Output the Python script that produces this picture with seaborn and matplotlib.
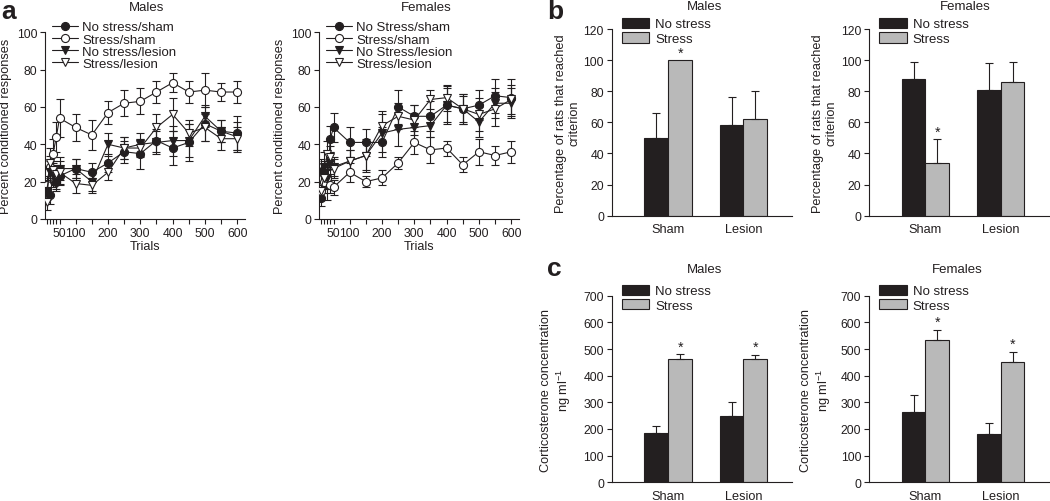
import matplotlib
matplotlib.use('Agg')
import pandas as pd
import matplotlib.pyplot as plt
import seaborn as sns

# Dados - painel a (percentagem de respostas condicionadas)
trials = [10, 20, 30, 40, 50, 100, 150, 200, 250, 300, 350, 400, 450, 500, 550, 600]

males_ns_sham = [16, 13, 25, 20, 23, 27, 25, 30, 36, 35, 42, 38, 41, 51, 47, 46]
males_ns_sham_err = [5, 5, 6, 4, 5, 5, 5, 5, 6, 8, 6, 9, 10, 9, 6, 9]
males_s_sham = [18, 28, 35, 44, 54, 49, 45, 57, 62, 63, 68, 73, 68, 69, 68, 68]
males_s_sham_err = [5, 6, 8, 8, 10, 7, 8, 6, 7, 7, 6, 5, 6, 9, 5, 6]
males_ns_lesion = [15, 25, 24, 20, 27, 27, 20, 40, 38, 40, 41, 42, 42, 55, 47, 44]
males_ns_lesion_err = [5, 6, 6, 5, 6, 5, 5, 6, 6, 6, 6, 8, 9, 6, 6, 8]
males_s_lesion = [9, 30, 26, 24, 25, 19, 18, 25, 38, 38, 49, 56, 46, 49, 43, 43]
males_s_lesion_err = [4, 8, 9, 5, 6, 5, 4, 4, 6, 5, 7, 9, 7, 7, 6, 6]

females_ns_sham = [11, 24, 18, 43, 49, 41, 41, 41, 60, 55, 55, 61, 59, 61, 66, 65]
females_ns_sham_err = [4, 7, 8, 7, 8, 8, 7, 8, 9, 6, 8, 10, 8, 8, 9, 10]
females_s_sham = [15, 20, 22, 18, 17, 25, 20, 22, 30, 41, 37, 38, 29, 36, 34, 36]
females_s_sham_err = [5, 6, 5, 4, 4, 5, 3, 4, 3, 6, 7, 4, 4, 7, 5, 6]
females_ns_lesion = [25, 28, 22, 30, 28, 31, 34, 46, 48, 49, 50, 61, 59, 52, 62, 62]
females_ns_lesion_err = [7, 8, 6, 6, 5, 6, 8, 10, 9, 8, 6, 9, 7, 8, 8, 8]
females_s_lesion = [15, 22, 35, 33, 27, 31, 34, 50, 55, 53, 64, 65, 59, 56, 59, 64]
females_s_lesion_err = [5, 6, 7, 6, 5, 6, 9, 8, 7, 8, 5, 7, 8, 9, 9, 8]

labels_males = ['No stress/sham', 'Stress/sham', 'No stress/lesion', 'Stress/lesion']
labels_females = ['No Stress/sham', 'Stress/sham', 'No Stress/lesion', 'Stress/lesion']

# Dados - paineis b e c
conditions = ['Sham', 'Lesion']
stress_levels = ['No stress', 'Stress']

crit_m_nostress = [50, 58]
crit_m_nostress_err = [16, 18]
crit_m_stress = [100, 62]
crit_m_stress_err = [0, 18]
crit_m_star = [True, False]

crit_f_nostress = [88, 81]
crit_f_nostress_err = [11, 17]
crit_f_stress = [34, 86]
crit_f_stress_err = [15, 13]
crit_f_star = [True, False]

cort_m_nostress = [185, 250]
cort_m_nostress_err = [27, 50]
cort_m_stress = [462, 462]
cort_m_stress_err = [19, 17]
cort_m_star = [True, True]

cort_f_nostress = [263, 182]
cort_f_nostress_err = [64, 41]
cort_f_stress = [535, 452]
cort_f_stress_err = [37, 37]
cort_f_star = [True, True]

INK = '#231f20'
bar_colors = {'No stress': INK, 'Stress': '#b9b9b9'}

sns.set_theme(style='ticks')
plt.rcParams['font.family'] = ['Liberation Sans', 'DejaVu Sans']
plt.rcParams['mathtext.default'] = 'regular'
plt.rcParams['text.color'] = INK
plt.rcParams['axes.labelcolor'] = INK
plt.rcParams['xtick.color'] = INK
plt.rcParams['ytick.color'] = INK
plt.rcParams['axes.edgecolor'] = INK

FS = 9.2
TS = 8.8
W, H = 1050, 502


def estilo_eixos(ax):
    sns.despine(ax=ax)
    for s in ax.spines.values():
        s.set_linewidth(0.8)
    ax.tick_params(direction='out', length=3.6, width=0.8, labelsize=TS, pad=2)


def painel_linhas(ax, series, erros, labels):
    estilos = [('o', INK), ('o', 'white'), ('v', INK), ('v', 'white')]
    for vals, err in zip(series, erros):
        ax.errorbar(trials, vals, yerr=err, fmt='none', ecolor=INK, elinewidth=0.8,
                    capsize=3, capthick=0.8, zorder=1)
    for vals, lab, (mk, face) in zip(series, labels, estilos):
        sns.lineplot(x=trials, y=vals, ax=ax, color=INK, marker=mk, markersize=5.8,
                     markerfacecolor=face, markeredgecolor=INK, markeredgewidth=0.8,
                     linewidth=0.8, label=lab, zorder=3)
    ax.set_xlim(5, 624)
    ax.set_ylim(0, 100)
    ticks = [10, 20, 30, 40, 50, 100, 150, 200, 250, 300, 350, 400, 450, 500, 550, 600]
    rotulos = [str(t) if t in (50, 100, 200, 300, 400, 500, 600) else '' for t in ticks]
    ax.set_xticks(ticks)
    ax.set_xticklabels(rotulos)
    ax.set_yticks([0, 20, 40, 60, 80, 100])
    ax.set_xlabel('Trials', fontsize=FS)
    ax.set_ylabel('Percent conditioned responses', fontsize=FS)
    ax.yaxis.set_label_coords(-0.165, 0.5)
    ax.xaxis.set_label_coords(0.5, -0.11)
    estilo_eixos(ax)
    ax.legend(loc='upper left', bbox_to_anchor=(0.035, 1.06), frameon=False, fontsize=FS + 0.3,
              handlelength=2.0, handletextpad=0.3, labelspacing=0.0, borderpad=0, borderaxespad=0)


def painel_barras(ax, nostress, stress, err_ns, err_s, stars, ylim, yticks, ylabel, lab_x):
    df = pd.DataFrame({
        'cond': conditions + conditions,
        'grupo': [stress_levels[0]] * 2 + [stress_levels[1]] * 2,
        'val': nostress + stress,
    })
    sns.barplot(data=df, x='cond', y='val', hue='grupo', order=conditions, hue_order=stress_levels,
                palette=bar_colors, width=0.63, gap=0, errorbar=None, saturation=1,
                edgecolor=INK, linewidth=0.8, ax=ax)
    for cont, err, flags in zip(ax.containers, [err_ns, err_s], [[False, False], stars]):
        for bar, e, st in zip(cont, err, flags):
            x = bar.get_x() + bar.get_width() / 2
            h = bar.get_height()
            if e > 0:
                ax.errorbar(x, h, yerr=[[0], [e]], fmt='none', ecolor=INK, elinewidth=0.8,
                            capsize=3, capthick=0.8, zorder=3)
            if st:
                ax.annotate('*', (x, h + e), xytext=(0, 0.5), textcoords='offset points',
                            ha='center', va='bottom', fontsize=FS + 1)
    ax.set_xlim(-0.75, 1.65)
    ax.set_ylim(*ylim)
    ax.set_yticks(yticks)
    ax.set_xlabel('')
    ax.set_ylabel(ylabel, fontsize=FS)
    ax.yaxis.set_label_coords(lab_x, 0.5)
    estilo_eixos(ax)
    ax.tick_params(axis='x', length=0, pad=5.5, labelsize=FS)
    sns.move_legend(ax, 'upper left', bbox_to_anchor=(0.055, 1.06), frameon=False, title=None,
                    fontsize=FS + 0.3, handlelength=2.1, handleheight=0.8, handletextpad=0.45,
                    labelspacing=0.15, borderpad=0, borderaxespad=0)


fig = plt.figure(figsize=(10.5, 5.02), dpi=100)

ax_am = fig.add_axes([45 / W, 0.5618, 0.1905, 0.3719])
ax_af = fig.add_axes([319 / W, 0.5618, 0.1905, 0.3719])
ax_bm = fig.add_axes([611.7 / W, 0.5683, 0.172, 0.3719])
ax_bf = fig.add_axes([869 / W, 0.5683, 0.172, 0.3719])
ax_cm = fig.add_axes([611.7 / W, 0.03725, 0.172, 0.3717])
ax_cf = fig.add_axes([869 / W, 0.03725, 0.172, 0.3717])

painel_linhas(ax_am,
              [males_ns_sham, males_s_sham, males_ns_lesion, males_s_lesion],
              [males_ns_sham_err, males_s_sham_err, males_ns_lesion_err, males_s_lesion_err],
              labels_males)
painel_linhas(ax_af,
              [females_ns_sham, females_s_sham, females_ns_lesion, females_s_lesion],
              [females_ns_sham_err, females_s_sham_err, females_ns_lesion_err, females_s_lesion_err],
              labels_females)

crit_label = 'Percentage of rats that reached\ncriterion'
cort_label = 'Corticosterone concentration\nng ml$^{-1}$'
painel_barras(ax_bm, crit_m_nostress, crit_m_stress, crit_m_nostress_err, crit_m_stress_err,
              crit_m_star, (0, 120), range(0, 121, 20), crit_label, -0.17)
painel_barras(ax_bf, crit_f_nostress, crit_f_stress, crit_f_nostress_err, crit_f_stress_err,
              crit_f_star, (0, 120), range(0, 121, 20), crit_label, -0.173)
painel_barras(ax_cm, cort_m_nostress, cort_m_stress, cort_m_nostress_err, cort_m_stress_err,
              cort_m_star, (0, 700), range(0, 701, 100), cort_label, -0.216)
painel_barras(ax_cf, cort_f_nostress, cort_f_stress, cort_f_nostress_err, cort_f_stress_err,
              cort_f_star, (0, 700), range(0, 701, 100), cort_label, -0.2)

# Titulos de cada grafico
for x, y, txt in [(146.7, 8, 'Males'), (426.7, 8, 'Females'), (705, 7.3, 'Males'),
                  (965, 7.3, 'Females'), (705, 270, 'Males'), (957, 270, 'Females')]:
    fig.text(x / W, 1 - y / H, txt, ha='center', va='center', fontsize=FS + 0.3)

# Letras dos paineis
for x, y, txt in [(1, 19, 'a'), (547, 19, 'b'), (547, 276, 'c')]:
    fig.text(x / W, 1 - y / H, txt, ha='left', va='baseline', fontsize=19, fontweight='bold')

fig.savefig('out.png', dpi=100)
